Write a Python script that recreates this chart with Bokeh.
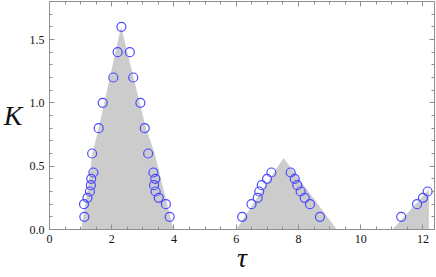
from bokeh.plotting import figure
from bokeh.models import LinearAxis, FixedTicker, Range1d
from bokeh.embed import file_html
from bokeh.resources import INLINE

# Shaded regions (vertices: tau, K)
region_tau = [
    [1.02, 1.22, 1.38, 1.58, 2.30, 3.10, 3.38, 3.66, 3.98],
    [6.00, 7.52, 9.23],
    [11.02, 12.19, 12.19],
]
region_K = [
    [0.0, 0.30, 0.60, 0.80, 1.60, 0.80, 0.60, 0.32, 0.0],
    [0.0, 0.565, 0.0],
    [0.0, 0.316, 0.0],
]

# Data points (open circles)
tau_pts = [2.31, 2.19, 2.58, 2.05, 2.69, 1.71, 2.92, 1.58, 3.06,
           1.37, 3.17, 1.41, 3.34, 1.34, 3.40, 1.33, 3.36, 1.30, 3.41,
           1.22, 3.51, 1.11, 3.74, 1.12, 3.86,
           6.19, 6.49, 6.69, 6.74, 6.82, 6.99, 7.13,
           7.75, 7.88, 7.96, 8.07, 8.20, 8.37, 8.69,
           11.30, 11.81, 12.00, 12.15]
K_pts = [1.60, 1.40, 1.40, 1.20, 1.20, 1.00, 1.00, 0.80, 0.80,
         0.60, 0.60, 0.45, 0.45, 0.40, 0.40, 0.35, 0.35, 0.30, 0.30,
         0.25, 0.25, 0.20, 0.20, 0.10, 0.10,
         0.10, 0.20, 0.25, 0.30, 0.35, 0.40, 0.45,
         0.45, 0.40, 0.35, 0.30, 0.25, 0.20, 0.10,
         0.10, 0.20, 0.25, 0.30]

x_major = [0, 2, 4, 6, 8, 10, 12]
x_minor = [i * 0.5 for i in range(0, 26)]
y_major = [0.0, 0.5, 1.0, 1.5]
y_minor = [round(i * 0.1, 1) for i in range(0, 19)]

X_MAX = 12.37
Y_MAX = 1.8

FRAME = "#8f8f8f"
SERIF = "Liberation Serif"

p = figure(width=436, height=277, x_range=Range1d(0, X_MAX), y_range=Range1d(0, Y_MAX),
           output_backend="svg", toolbar_location=None,
           x_axis_location=None, y_axis_location=None,
           min_border_left=48, min_border_right=2, min_border_top=1, min_border_bottom=48)
p.grid.visible = False
p.outline_line_color = FRAME
p.background_fill_color = "white"
p.border_fill_color = "white"

p.patches(region_tau, region_K, fill_color="#cccccc", line_color=None)
p.scatter(tau_pts, K_pts, marker="circle", size=9, fill_color=None,
          line_color="#4a4aff", line_width=1.2)


def style(ax, ticks, labels=True):
    ax.axis_line_color = FRAME
    ax.major_tick_line_color = FRAME
    ax.minor_tick_line_color = FRAME
    ax.major_tick_in = 5
    ax.major_tick_out = 0
    ax.minor_tick_in = 3
    ax.minor_tick_out = 0
    if labels:
        ax.major_label_text_font = SERIF
        ax.major_label_text_font_size = "12px"
        ax.major_label_text_color = "#111111"
        ax.major_label_standoff = 5
    else:
        ax.major_label_overrides = {t: "" for t in ticks}
        ax.major_label_text_font_size = "1px"
        ax.major_label_standoff = 0


xb = LinearAxis(ticker=FixedTicker(ticks=x_major, minor_ticks=x_minor))
style(xb, x_major)
xb.axis_label = "τ"
xb.axis_label_text_font = SERIF
xb.axis_label_text_font_style = "italic"
xb.axis_label_text_font_size = "28px"
xb.axis_label_text_color = "#111111"
xb.axis_label_standoff = -4
p.add_layout(xb, "below")

yl = LinearAxis(ticker=FixedTicker(ticks=y_major, minor_ticks=y_minor))
style(yl, y_major)
yl.major_label_overrides = {0: "0.0", 1: "1.0"}
yl.axis_label = "K"
yl.axis_label_orientation = "horizontal"
yl.axis_label_text_font = SERIF
yl.axis_label_text_font_style = "italic"
yl.axis_label_text_font_size = "28px"
yl.axis_label_text_color = "#111111"
yl.axis_label_standoff = 4
p.add_layout(yl, "left")

xt = LinearAxis(ticker=FixedTicker(ticks=x_major, minor_ticks=x_minor))
style(xt, x_major, labels=False)
p.add_layout(xt, "above")

yr = LinearAxis(ticker=FixedTicker(ticks=y_major, minor_ticks=y_minor))
style(yr, y_major, labels=False)
p.add_layout(yr, "right")

open("out.html", "w").write(file_html(p, INLINE))
